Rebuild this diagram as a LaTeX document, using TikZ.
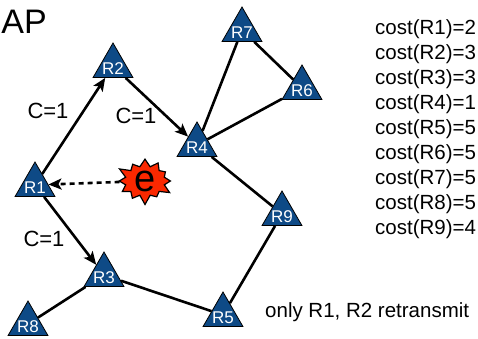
\documentclass[tikz,border=0pt]{standalone}
\usepackage{fontspec}
\setmainfont{Liberation Sans}
\usepackage{tikz}
\usetikzlibrary{arrows.meta,shapes.geometric,shapes.symbols}
\definecolor{routerblue}{RGB}{14,74,134}
\definecolor{burstred}{RGB}{250,40,0}

\begin{document}
\begin{tikzpicture}[x=1pt,y=-1pt,
router/.style={draw,regular polygon,regular polygon sides=3,fill=routerblue,
    minimum size=46pt,inner sep=0pt,line width=0.8pt,
    label={[text=white,font=\fontsize{17}{18}\selectfont,yshift=-2.5pt]center:#1}},
link/.style={line width=2.6pt},
fwd/.style={link,-{Stealth[length=13pt,width=11pt,inset=3pt]}},
cost/.style={anchor=base west,inner sep=0pt,font=\fontsize{20.5}{24}\selectfont},
weight/.style={font=\fontsize{22}{26}\selectfont}]
\useasboundingbox (0,0) rectangle (478,338);

% routers
\node (R1) [router=R1] at (35,185) {};
\node (R2) [router=R2] at (113,66) {};
\node (R3) [router=R3] at (104,275) {};
\node (R4) [router=R4] at (197,145) {};
\node (R5) [router=R5] at (223,315) {};
\node (R6) [router=R6] at (302,88) {};
\node (R7) [router=R7] at (242,30) {};
\node (R8) [router=R8] at (28,324) {};
\node (R9) [router=R9] at (282,214) {};

% event
\node (ev) [starburst,starburst points=12,starburst point height=10pt,
    fill=burstred,draw,line width=1.2pt,minimum width=60pt,minimum height=34pt,
    inner sep=0pt,font=\fontsize{38}{38}\selectfont] at (145,181) {e};

% plain links
\draw[link] (R3) -- (R8);
\draw[link] (R3) -- (R5);
\draw[link] (R5) -- (R9);
\draw[link] (R9) -- (R4);
\draw[link] (R4) -- (R7);
\draw[link] (R4) -- (R6);
\draw[link] (R7) -- (R6);

% retransmissions
\draw[fwd] (R1) -- (R2);
\draw[fwd] (R2) -- (R4);
\draw[fwd] (R1) -- (R3);
\draw[fwd,dash pattern=on 5pt off 4pt] (ev) -- (R1);

\node (w12) [weight] at (48,111) {C=1};
\node (w24) [weight] at (136,116) {C=1};
\node (w13) [weight] at (44,239) {C=1};

\node (title) [anchor=base east,inner sep=0pt,font=\fontsize{34}{36}\selectfont] at (47,33) {AP};

% cost table
\foreach \r/\c [count=\i from 0] in {1/2,2/3,3/3,4/1,5/5,6/5,7/5,8/5,9/4}
  \node (cost\r) [cost] at (375,34+25*\i) {cost(R\r)=\c};

\node (note) [cost] at (265,317) {only R1, R2 retransmit};
\end{tikzpicture}
\end{document}
